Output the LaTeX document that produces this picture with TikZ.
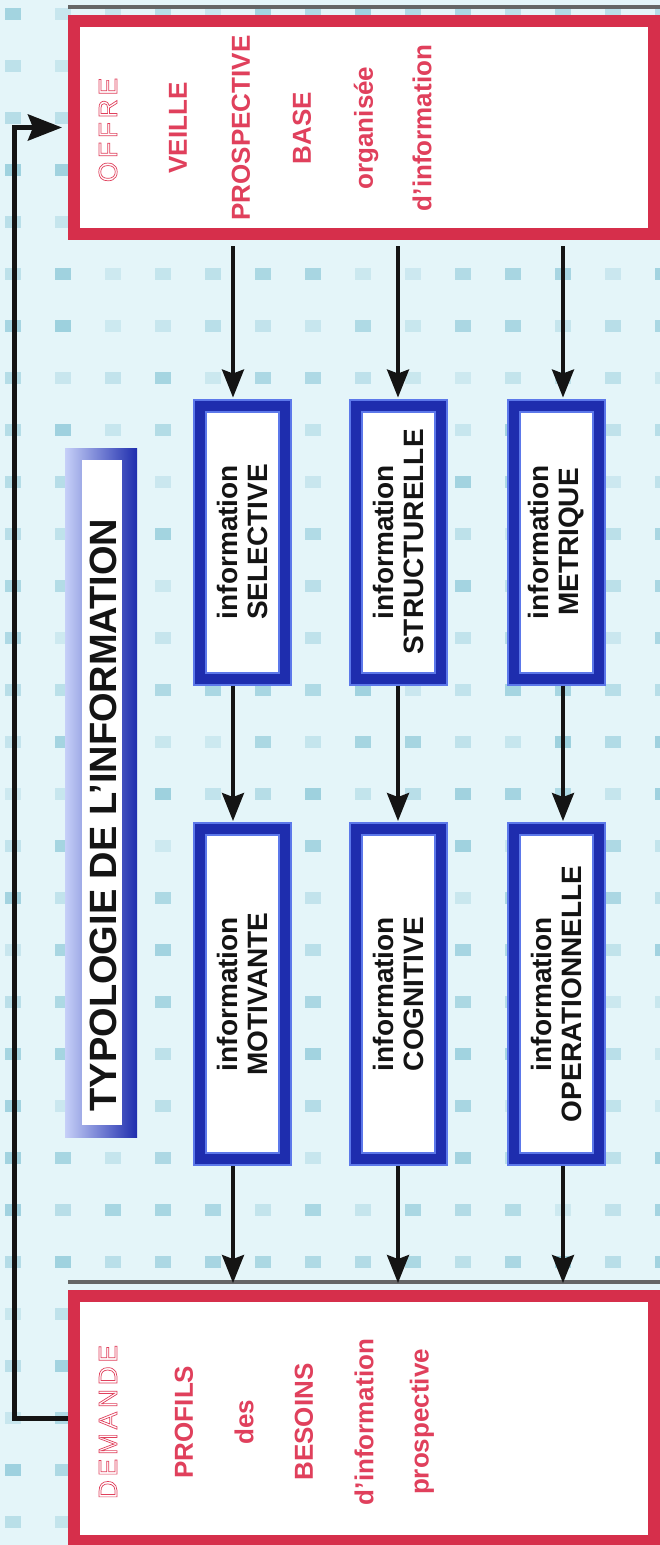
\documentclass[tikz,border=0pt]{standalone}
\usepackage{fontspec}
\setmainfont{Liberation Sans}
\usetikzlibrary{arrows.meta}

\definecolor{paper}{HTML}{E4F5F9}
\definecolor{speck}{HTML}{8CC8D8}
\definecolor{frame}{HTML}{D62F4B}
\definecolor{rouge}{HTML}{E0405C}
\definecolor{navy}{HTML}{1E2DAE}
\definecolor{bevel}{HTML}{5C78EA}
\definecolor{ink}{HTML}{141414}

% outlined letters (stroke only)
\newcommand{\hollow}[1]{\special{pdf:literal direct 1 Tr 0.7 w}#1\special{pdf:literal direct 0 Tr}}

\begin{document}
\begin{tikzpicture}[
  x=1pt,
  y=-1pt,
  redbox/.style={draw=frame,line width=12pt,fill=white,inner sep=0pt,
    minimum width=580pt},
  bluebox/.style={draw=bevel,double=navy,double distance=10pt,line width=2pt,
    fill=white,inner sep=0pt,minimum width=85pt},
  redtxt/.style={rotate=90,text=rouge,font=\fontsize{26}{30}\selectfont\bfseries},
  hollowtxt/.style={rotate=90,text=rouge,font=\fontsize{26}{30}\selectfont},
  bluetxt/.style={rotate=90,text=ink,align=center,
    font=\fontsize{28}{30}\selectfont\bfseries},
  flow/.style={draw=ink,line width=3.5pt,shorten <=6pt,shorten >=7pt,
    -{Stealth[length=28pt,width=22pt,inset=4pt]}},
  backarrow/.style={draw=ink,line width=5pt,shorten >=6pt,
    -{Stealth[length=34pt,width=26pt,inset=5pt]}}
]
\useasboundingbox (0,0) rectangle (660,1545);
\fill[paper] (0,0) rectangle (660,1545);
\pgfmathsetseed{7}
\foreach \r in {0,...,29}
  \foreach \c in {0,...,13}{
    \pgfmathsetmacro\op{0.25+0.55*rnd}
    \fill[speck,opacity=\op] ({5+50*\c},{8+52*\r}) rectangle +(16,12);
  }

% offre / demande
\node[redbox,minimum height=213pt] (offre) at (364,127.5) {};
\node[redbox,minimum height=245pt] (demande) at (364,1418.5) {};
\draw[black!60,line width=4pt] ([yshift=8pt]offre.north west) -- ([yshift=8pt]offre.north east);
\draw[black!60,line width=4pt] ([yshift=8pt]demande.north west) -- ([yshift=8pt]demande.north east);

\node[hollowtxt] (offrelbl) at (108,130)
  {\hollow{O\kern4pt F\kern4pt F\kern4pt R\kern4pt E}};
\foreach \x/\w in {178/VEILLE,241/PROSPECTIVE,302/BASE,366/organisée,422/d'information}
  \node[redtxt] (offre-\x) at (\x,128) {\w};

\node[hollowtxt] (demandelbl) at (108,1422)
  {\hollow{D\kern4pt E\kern4pt M\kern4pt A\kern4pt N\kern4pt D\kern4pt E}};
\foreach \x/\w in {184/PROFILS,244/des,304/BESOINS,364/d'information,422/prospective}
  \node[redtxt] (demande-\x) at (\x,1422) {\w};

% title
\shade[left color=bevel!35,right color=navy] (65,448) rectangle (137,1137);
\node[fill=white,inner sep=0pt,minimum width=40pt,minimum height=665pt]
  (title) at (102,792) {};
\node[rotate=90,text=ink,font=\fontsize{38}{40}\selectfont\bfseries]
  (titletxt) at (103,815) {TYPOLOGIE DE L'INFORMATION};

% six types
\node[bluebox,minimum height=273pt] (sel) at (242,542) {};
\node[bluebox,minimum height=273pt] (str) at (398,542) {};
\node[bluebox,minimum height=273pt] (met) at (556,542) {};
\node[bluebox,minimum height=330pt] (mot) at (242,994) {};
\node[bluebox,minimum height=330pt] (cog) at (398,994) {};
\node[bluebox,minimum height=330pt] (ope) at (556,994) {};

\node[bluetxt] (seltxt) at (sel) {information\\SELECTIVE};
\node[bluetxt] (strtxt) at (str) {information\\STRUCTURELLE};
\node[bluetxt] (mettxt) at (met) {information\\METRIQUE};
\node[bluetxt] (mottxt) at (mot) {information\\MOTIVANTE};
\node[bluetxt] (cogtxt) at (cog) {information\\COGNITIVE};
\node[bluetxt] (opetxt) at (ope) {information\\OPERATIONNELLE};

\coordinate (col1) at (233,0);
\coordinate (col2) at (398,0);
\coordinate (col3) at (563,0);

\draw[flow] (col1 |- offre.south) -- (col1 |- sel.north);
\draw[flow] (col2 |- offre.south) -- (col2 |- str.north);
\draw[flow] (col3 |- offre.south) -- (col3 |- met.north);
\draw[flow] (col1 |- sel.south) -- (col1 |- mot.north);
\draw[flow] (col2 |- str.south) -- (col2 |- cog.north);
\draw[flow] (col3 |- met.south) -- (col3 |- ope.north);
\draw[flow] (col1 |- mot.south) -- (col1 |- demande.north);
\draw[flow] (col2 |- cog.south) -- (col2 |- demande.north);
\draw[flow] (col3 |- ope.south) -- (col3 |- demande.north);

% retour demande -> offre
\coordinate (back) at (14,0);
\draw[backarrow] (demande.west) -- (back |- demande.west)
  -- (back |- offre.west) -- (offre.west);
\end{tikzpicture}
\end{document}
